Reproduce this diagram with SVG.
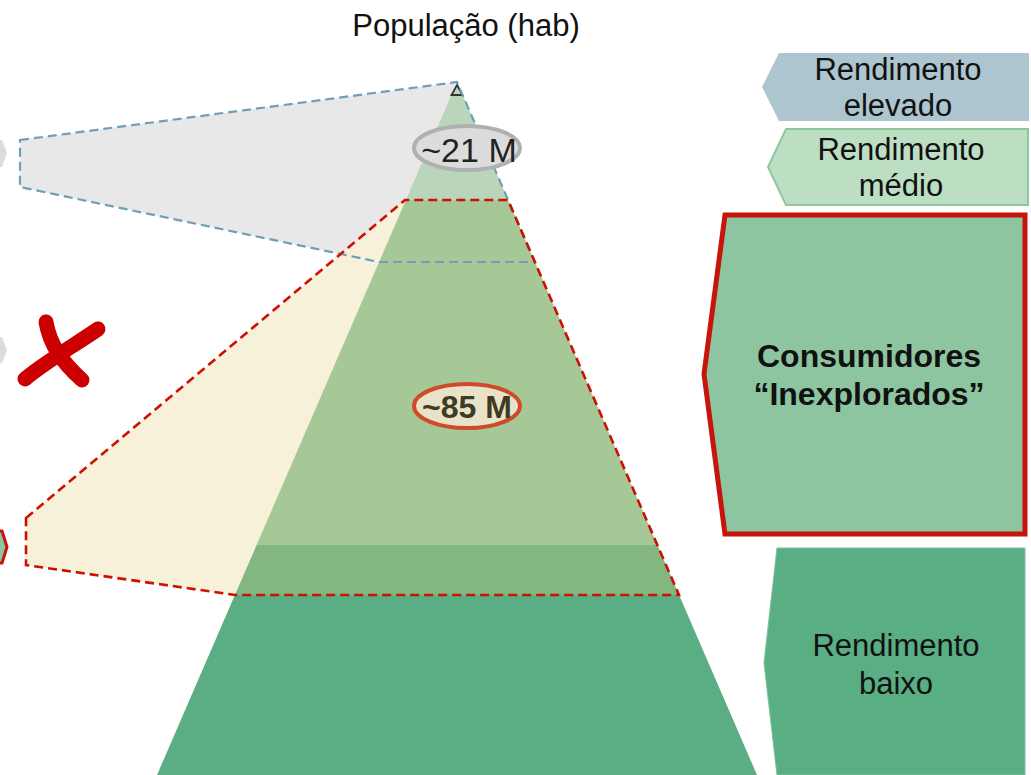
<svg xmlns="http://www.w3.org/2000/svg" width="1031" height="775" viewBox="0 0 1031 775">
<style>
text{font-family:"Liberation Sans",Arial,sans-serif;fill:#111}
.lbl{font-size:31px;text-anchor:middle}
.b{font-weight:bold}
.blue{fill:none;stroke:#6f9fb5;stroke-width:2.2;stroke-dasharray:9 5}
.red{fill:none;stroke:#cc1100;stroke-width:2.6;stroke-dasharray:9 5}
</style>
<rect width="1031" height="775" fill="#ffffff"/>
<g id="left-tips">
<polygon points="0,140 2,140 7,153 2,167 0,167" fill="#dcdcdc"/>
<polygon points="0,337 2,337 7,350 2,363 0,363" fill="#dcdcdc"/>
<polygon points="-2,531 2,531 7,547 2,563 -2,563" fill="#8dc5a0" stroke="#c8140a" stroke-width="3"/>
</g>
<g id="callout-fills">
<polygon points="20,140 457,82 535,262 379,262 20,187" fill="#e8e8e8"/>
<polygon points="26,518 405,200 508,200 679,595 235,595 26,565" fill="#f8f1da"/>
</g>
<g id="pyramid">
<polygon points="457,82 508.1,200 405.9,200" fill="#b9d6bb"/>
<polygon points="405.9,200 508.1,200 657.4,545 256.6,545" fill="#a6c896"/>
<polygon points="256.6,545 657.4,545 679.1,595 234.9,595" fill="#82b780"/>
<polygon points="234.9,595 679.1,595 757,775 157,775" fill="#5bae84"/>
<polygon points="457,85 462.5,95 451.5,95" fill="none" stroke="#333" stroke-width="1.8"/>
</g>
<g id="connectors">
<path class="blue" d="M20,140 L457,82 L535,262 L379,262 L20,187 Z"/>
<path class="red" d="M26,518 L405,200 L508,200 L679,595 L235,595 L26,565 Z"/>
</g>
<g id="title">
<text class="lbl" x="466" y="36">População (hab)</text>
</g>
<g id="bubble-21">
<ellipse cx="467" cy="148" rx="53" ry="22" fill="#dcdcdc" stroke="#b0b0b0" stroke-width="4"/>
<text class="lbl" x="469" y="162" style="font-size:34px;fill:#222">~21 M</text>
</g>
<g id="bubble-85">
<ellipse cx="467" cy="406" rx="53" ry="22" fill="#e8e2c8" stroke="#d04a2a" stroke-width="4"/>
<text class="lbl b" x="467" y="418" style="font-size:32px;fill:#3f3a22">~85 M</text>
</g>
<g id="cross">
<path d="M46,322 C50,345 62,362 82,380" fill="none" stroke="#cc0000" stroke-width="15" stroke-linecap="round"/>
<path d="M98,329 C75,345 45,362 25,379" fill="none" stroke="#cc0000" stroke-width="15" stroke-linecap="round"/>
</g>
<g id="rendimento-elevado">
<polygon points="779,53 1029,53 1029,121 779,121 762,87" fill="#adc5cf"/>
<text class="lbl" x="898" y="80">Rendimento</text>
<text class="lbl" x="898" y="116">elevado</text>
</g>
<g id="rendimento-medio">
<polygon points="786,129 1028,129 1028,205 786,205 768,167" fill="#bcdfc3" stroke="#8fc79c" stroke-width="2"/>
<text class="lbl" x="901" y="160">Rendimento</text>
<text class="lbl" x="901" y="196">médio</text>
</g>
<g id="consumidores">
<polygon points="725,215 1025,215 1025,534 725,534 704,374" fill="#8dc5a0" stroke="#c8140a" stroke-width="5"/>
<text class="lbl b" x="869" y="367" style="font-size:32px">Consumidores</text>
<text class="lbl b" x="869" y="405" style="font-size:32px">“Inexplorados”</text>
</g>
<g id="rendimento-baixo">
<polygon points="777,548 1025,548 1025,775 777,775 764,663" fill="#5aae83" stroke="#7cc09c" stroke-width="1"/>
<text class="lbl" x="896" y="656">Rendimento</text>
<text class="lbl" x="896" y="694">baixo</text>
</g>
</svg>
